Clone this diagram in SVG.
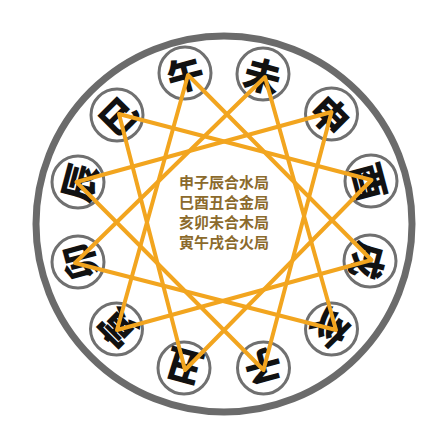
<svg xmlns="http://www.w3.org/2000/svg" width="436" height="441" viewBox="0 0 436 441">
<style>
.ring{fill:#fff;stroke:#6b6b6b;stroke-width:7}
.node circle{fill:#fff;stroke:#707070;stroke-width:3}
.node text{font-family:"Noto Sans CJK SC","Noto Sans CJK JP",sans-serif;font-weight:900;font-size:37px;fill:#111;text-anchor:middle;dominant-baseline:central}
.link{fill:none;stroke:#F2A51F;stroke-width:4;stroke-linejoin:round}
.label{font-family:"Noto Sans CJK SC","Noto Sans CJK JP",sans-serif;font-weight:700;font-size:15px;fill:#8B6A2C;text-anchor:middle}
</style>
<rect width="436" height="441" fill="#fff"/>
<circle class="ring" cx="224" cy="224" r="188"/>
<g id="nodes">
<g id="n-wu" class="node"><circle cx="185" cy="73" r="26"/><text transform="translate(185 73) rotate(-15)">午</text></g>
<g id="n-wei" class="node"><circle cx="263" cy="74" r="26"/><text transform="translate(263 74) rotate(15)">未</text></g>
<g id="n-shen" class="node"><circle cx="331.5" cy="114" r="26"/><text transform="translate(331.5 114) rotate(45)">申</text></g>
<g id="n-you" class="node"><circle cx="371" cy="181" r="26"/><text transform="translate(371 181) rotate(75)">酉</text></g>
<g id="n-xu" class="node"><circle cx="370" cy="261" r="26"/><text transform="translate(370 261) rotate(105)">戌</text></g>
<g id="n-hai" class="node"><circle cx="331.5" cy="329" r="26"/><text transform="translate(331.5 329) rotate(135)">亥</text></g>
<g id="n-zi" class="node"><circle cx="263.5" cy="368" r="26"/><text transform="translate(263.5 368) rotate(165)">子</text></g>
<g id="n-chou" class="node"><circle cx="184" cy="368" r="26"/><text transform="translate(184 368) rotate(195)">丑</text></g>
<g id="n-yin" class="node"><circle cx="116.5" cy="329" r="26"/><text transform="translate(116.5 329) rotate(225)">寅</text></g>
<g id="n-mao" class="node"><circle cx="78" cy="262" r="26"/><text transform="translate(78 262) rotate(255)">卯</text></g>
<g id="n-chen" class="node"><circle cx="78" cy="182" r="26"/><text transform="translate(78 182) rotate(285)">辰</text></g>
<g id="n-si" class="node"><circle cx="117" cy="115" r="26"/><text transform="translate(117 115) rotate(315)">巳</text></g>
</g>
<g id="connectors">
<polygon class="link" points="331.5,112 263.5,370 76.5,182"/>
<polygon class="link" points="119,114 371.5,180 185,370"/>
<polygon class="link" points="336,330 75,263 265,77"/>
<polygon class="link" points="117,330 188,75 371.5,260"/>
</g>
<g id="center-text">
<text class="label" x="224" y="188">申子辰合水局</text>
<text class="label" x="224" y="208">巳酉丑合金局</text>
<text class="label" x="224" y="228">亥卯未合木局</text>
<text class="label" x="224" y="248">寅午戌合火局</text>
</g>
</svg>
